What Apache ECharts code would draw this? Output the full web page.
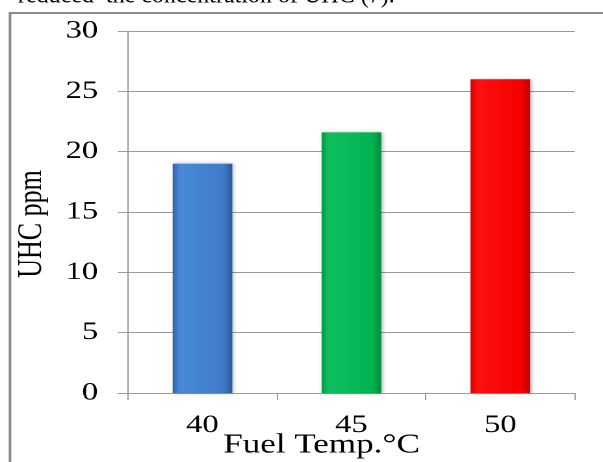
<!DOCTYPE html>
<html>
<head>
<meta charset="utf-8">
<script src="https://cdn.jsdelivr.net/npm/echarts@6/dist/echarts.min.js"></script>
<style>
html,body{margin:0;padding:0;background:#fff;overflow:hidden;width:603px;height:462px;}
#c{width:464px;height:462px;transform:scaleX(1.2996);transform-origin:0 0;}
</style>
</head>
<body>
<div id="c"></div>
<script>
var categories = ['40', '45', '50'];
var uhcValues = [19, 21.6, 26];
var yTicks = [0, 5, 10, 15, 20, 25, 30];
var barColors = [
  ['#2f63a8', '#4a8ad8', '#3f7bc8', '#2b5a98'],
  ['#009a42', '#10c060', '#00b352', '#008a3a'],
  ['#d80000', '#ff1010', '#f40000', '#c00000']
];

function grad(c) {
  return new echarts.graphic.LinearGradient(0, 0, 1, 0, [
    {offset: 0, color: c[0]},
    {offset: 0.12, color: c[1]},
    {offset: 0.85, color: c[2]},
    {offset: 1, color: c[3]}
  ]);
}

var chart = echarts.init(document.getElementById('c'), null, {devicePixelRatio: 2});
chart.setOption({
  animation: false,
  backgroundColor: '#fff',
  grid: {left: 98.5, right: 21.7, top: 31, bottom: 69, outerBoundsMode: 'none', containLabel: false},
  xAxis: {
    type: 'category',
    data: categories,
    name: 'Fuel Temp.°C',
    nameLocation: 'middle',
    nameGap: 39,
    nameMoveOverlap: false,
    nameTextStyle: {fontFamily: 'Liberation Serif', fontSize: 27, color: '#000', padding: [0, 46, 0, 0]},
    axisLine: {lineStyle: {color: '#9a9a9a', width: 1}},
    axisTick: {show: true, length: 7, lineStyle: {color: '#9a9a9a'}},
    axisLabel: {fontFamily: 'Liberation Serif', fontSize: 25, color: '#000', margin: 20}
  },
  yAxis: {
    type: 'value',
    min: yTicks[0],
    max: yTicks[yTicks.length - 1],
    interval: 5,
    name: 'UHC ppm',
    nameLocation: 'middle',
    nameGap: 61,
    nameMoveOverlap: false,
    nameRotate: 90,
    nameTextStyle: {fontFamily: 'Liberation Serif', fontSize: 26, color: '#000', padding: [0, 24, 0, 0]},
    axisLine: {show: true, lineStyle: {color: '#9a9a9a', width: 1}},
    axisTick: {show: true, length: 7.7, lineStyle: {color: '#9a9a9a'}},
    axisLabel: {fontFamily: 'Liberation Serif', fontSize: 25, color: '#000', margin: 23},
    splitLine: {lineStyle: {color: '#9a9a9a', width: 1}}
  },
  series: [{
    type: 'bar',
    barWidth: '40%',
    data: uhcValues.map(function (v, i) {
      return {
        value: v,
        itemStyle: {
          color: grad(barColors[i]),
          shadowColor: 'rgba(0,0,0,0.3)',
          shadowBlur: 3,
          shadowOffsetX: 1,
          shadowOffsetY: 0
        }
      };
    })
  }],
  graphic: [
    {
      type: 'rect',
      shape: {x: 7.7, y: 13, width: 500, height: 470},
      style: {fill: 'none', stroke: '#8a8a8a', lineWidth: 2},
      silent: true
    },
    {
      type: 'text',
      x: 13.8,
      y: -16,
      scaleX: 0.77,
      style: {text: 'reduced  the concentration of UHC (7).', fontFamily: 'Liberation Serif', fontSize: 24, fill: '#000', verticalAlign: 'top'}
    }
  ]
});
</script>
</body>
</html>
